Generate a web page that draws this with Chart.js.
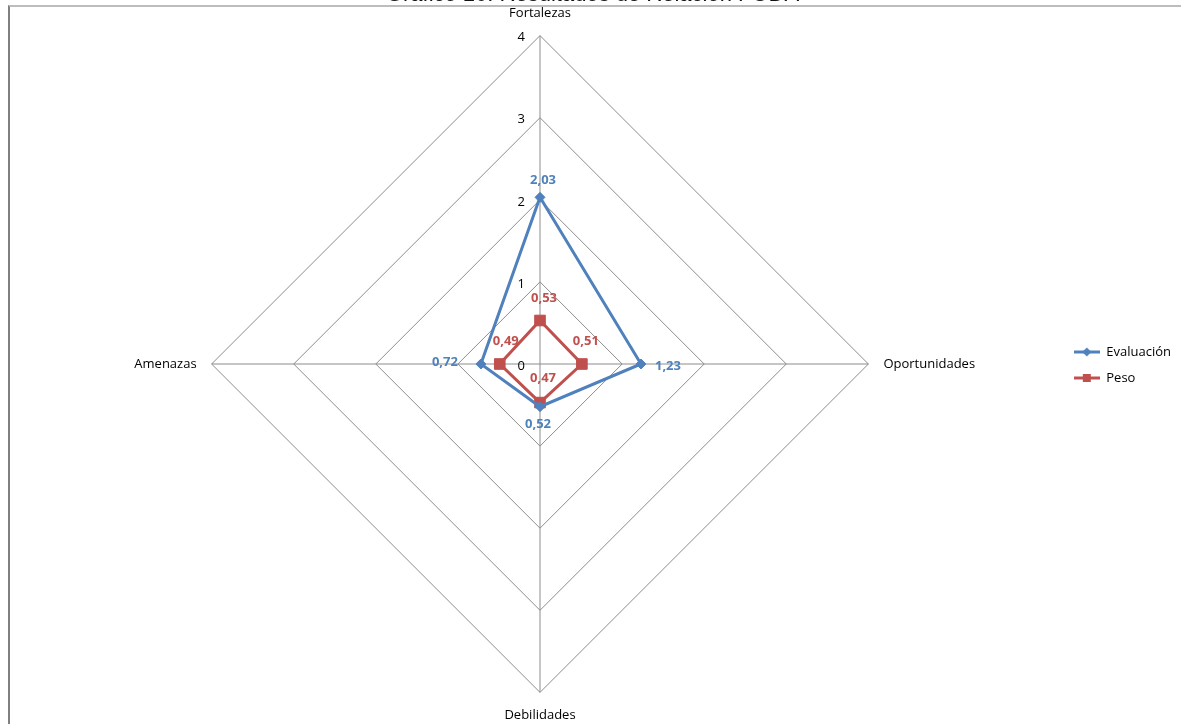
<!DOCTYPE html>
<html>
<head>
<meta charset="utf-8">
<script src="https://cdn.jsdelivr.net/npm/chart.js@4"></script>
<style>
  body { margin: 0; background: #fff; }
  #wrap { position: relative; width: 1181px; height: 724px; overflow: hidden; }
  #titulo {
    position: absolute; left: 0; top: -17px; width: 1181px; text-align: center;
    font: 22px "Liberation Sans", Arial, sans-serif; line-height: 22px; color: #111;
    padding-left: 2px;
  }
  #marco {
    position: absolute; left: 8px; top: 5px; right: -4px; bottom: -4px;
    border-top: 2px solid #bdbdbd; border-left: 2px solid #808080; pointer-events: none;
  }
  #box { position: absolute; left: 0; top: 0; width: 1181px; height: 724px; }
</style>
</head>
<body>
<div id="wrap">
  <div id="box"><canvas id="myChart"></canvas></div>
  <div id="marco"></div>
  <div id="titulo">Gráfico 16. Resultados de Relación FODA</div>
</div>
<script>
// datos del grafico
const categorias = ["Fortalezas", "Oportunidades", "Debilidades", "Amenazas"];
const evaluacion = [2.03, 1.23, 0.52, 0.72];
const peso = [0.53, 0.51, 0.47, 0.49];
const ticksEje = [0, 1, 2, 3, 4];

const azul = "#4F81BD";
const rojo = "#C0504D";

// iconos de la leyenda (linea con marcador)
function iconoLeyenda(color, forma) {
  const c = document.createElement("canvas");
  c.width = 26;
  c.height = 12;
  const g = c.getContext("2d");
  g.strokeStyle = color;
  g.lineWidth = 3;
  g.beginPath();
  g.moveTo(0, 6);
  g.lineTo(26, 6);
  g.stroke();
  g.fillStyle = color;
  if (forma === "diamante") {
    g.beginPath();
    g.moveTo(13, 1.5);
    g.lineTo(17.5, 6);
    g.lineTo(13, 10.5);
    g.lineTo(8.5, 6);
    g.closePath();
    g.fill();
  } else {
    g.fillRect(9, 2, 8, 8);
  }
  return c;
}
const iconos = [iconoLeyenda(azul, "diamante"), iconoLeyenda(rojo, "cuadro")];

// etiquetas de los ejes (0..4) a la izquierda del eje vertical
const ticksPlugin = {
  id: "ticksPlugin",
  afterDatasetsDraw(chart) {
    const r = chart.scales.r;
    const ctx = chart.ctx;
    ctx.save();
    ctx.font = "13px 'Open Sans'";
    ctx.fillStyle = "#000";
    ctx.textAlign = "right";
    ctx.textBaseline = "middle";
    ticksEje.forEach((t) => {
      const p = r.getPointPositionForValue(0, t);
      ctx.fillText(String(t), p.x - 15, p.y + 2);
    });
    ctx.restore();
  },
};

// etiquetas de datos
const ubicaciones = [
  [[3, -17, "center"], [14, 2, "left"], [-2, 18, "center"], [-23, -2, "right"]],
  [[4, -22, "center"], [4, -23, "center"], [3, -24, "center"], [6, -23, "center"]],
];
const etiquetasPlugin = {
  id: "etiquetasPlugin",
  afterDatasetsDraw(chart) {
    const ctx = chart.ctx;
    ctx.save();
    ctx.font = "bold 13px 'Open Sans'";
    ctx.textBaseline = "middle";
    chart.data.datasets.forEach((ds, i) => {
      const meta = chart.getDatasetMeta(i);
      ctx.fillStyle = ds.borderColor;
      meta.data.forEach((pt, j) => {
        const u = ubicaciones[i][j];
        ctx.textAlign = u[2];
        ctx.fillText(ds.data[j].toFixed(2).replace(".", ","), pt.x + u[0], pt.y + u[1]);
      });
    });
    ctx.restore();
  },
};

const ctx = document.getElementById("myChart").getContext("2d");
const myChart = new Chart(ctx, {
  type: "radar",
  data: {
    labels: categorias,
    datasets: [
      {
        label: "Evaluación",
        data: evaluacion,
        borderColor: azul,
        backgroundColor: azul,
        borderWidth: 3,
        fill: false,
        pointStyle: "rectRot",
        pointRadius: 5,
        pointBackgroundColor: azul,
        pointBorderColor: azul,
        pointBorderWidth: 1,
      },
      {
        label: "Peso",
        data: peso,
        borderColor: rojo,
        backgroundColor: rojo,
        borderWidth: 3,
        fill: false,
        pointStyle: "rect",
        pointRadius: 7.5,
        pointBackgroundColor: rojo,
        pointBorderColor: rojo,
        pointBorderWidth: 1,
      },
    ],
  },
  options: {
    responsive: true,
    maintainAspectRatio: false,
    animation: false,
    layout: { padding: { left: 21, top: 6, bottom: 0, right: 0 } },
    elements: { line: { tension: 0 } },
    scales: {
      r: {
        min: 0,
        max: 4,
        ticks: { stepSize: 1, display: false },
        grid: { color: "#8c8c8c", lineWidth: 1 },
        angleLines: { color: "#8c8c8c", lineWidth: 1 },
        pointLabels: {
          padding: 15,
          color: "#000",
          font: { family: "'Open Sans'", size: 13 },
        },
      },
    },
    plugins: {
      tooltip: { enabled: false },
      legend: {
        position: "right",
        labels: {
          usePointStyle: true,
          pointStyleWidth: 26,
          padding: 13,
          color: "#000",
          font: { family: "'Open Sans'", size: 13 },
          generateLabels(chart) {
            const items = Chart.defaults.plugins.legend.labels.generateLabels(chart);
            items.forEach((it, i) => {
              it.pointStyle = iconos[i];
            });
            return items;
          },
        },
      },
    },
  },
  plugins: [ticksPlugin, etiquetasPlugin],
});
</script>
</body>
</html>
